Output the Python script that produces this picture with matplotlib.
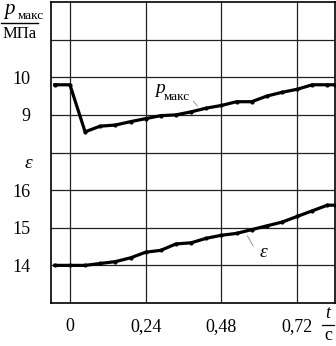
import matplotlib
matplotlib.use("Agg")
import matplotlib.pyplot as plt

# time, s
t = [-0.048, 0.0, 0.048, 0.096, 0.144, 0.192, 0.24, 0.288, 0.336, 0.384,
     0.432, 0.48, 0.528, 0.576, 0.624, 0.672, 0.72, 0.768, 0.816, 0.84]
# max pressure, MPa
p_max = [9.8, 9.8, 8.55, 8.7, 8.73, 8.82, 8.9, 8.98, 9.0, 9.08,
         9.18, 9.25, 9.35, 9.35, 9.5, 9.6, 9.68, 9.8, 9.8, 9.8]
# compression ratio
eps = [14.0, 14.0, 14.0, 14.05, 14.1, 14.2, 14.35, 14.4, 14.57, 14.6,
       14.72, 14.8, 14.85, 14.95, 15.05, 15.15, 15.3, 15.45, 15.6, 15.6]

xticks = [0, 0.24, 0.48, 0.72]
xlabels = ["0", "0,24", "0,48", "0,72"]

# both curves share one grid: p level = p - 4, eps level = eps - 13
p_lvl = [v - 4 for v in p_max]
e_lvl = [v - 13 for v in eps]

W, H = 336, 346
fig = plt.figure(figsize=(W / 100, H / 100), dpi=100)
ax = fig.add_axes([51 / W, 43 / H, 284 / W, 301 / H])

font = "Liberation Serif"
ax.plot(t, p_lvl, color="black", lw=2.3, marker="o", ms=2)
ax.plot(t, e_lvl, color="black", lw=2.3, marker="o", ms=2)

ax.set_xlim(-0.06, 0.84)
ax.set_ylim(0, 8)
ax.set_xticks(xticks)
ax.set_xticklabels(xlabels, fontfamily=font, fontsize=13)
ax.set_yticks([1, 2, 3, 5, 6])
ax.set_yticklabels(["14", "15", "16", "9", "10"], fontfamily=font, fontsize=13)
ax.tick_params(length=0, pad=11)
ax.tick_params(axis="y", pad=15)
for v in xticks:
    ax.axvline(v, color="#222222", lw=0.9, zorder=0)
for v in range(1, 8):
    ax.axhline(v, color="#222222", lw=0.9, zorder=0)
for s in ax.spines.values():
    s.set_linewidth(1.2)

# curve labels
ax.annotate("", xy=(0.41, 5.18), xytext=(0.385, 5.42),
            arrowprops=dict(arrowstyle="-", color="#999999", lw=0.7))
ax.text(0.27, 5.58, "p", fontfamily=font, style="italic", fontsize=14)
ax.text(0.296, 5.4, "макс", fontfamily=font, fontsize=9.5)
ax.annotate("", xy=(0.558, 1.85), xytext=(0.585, 1.45),
            arrowprops=dict(arrowstyle="-", color="#999999", lw=0.7))
ax.text(0.6, 1.22, "ε", fontfamily=font, style="italic", fontsize=14)

# axis captions in figure pixel coords
def px(x, y):
    return x / W, 1 - y / H

fig.text(*px(4, 14), "p", fontfamily=font, style="italic", fontsize=15)
fig.text(*px(18, 19), "макс", fontfamily=font, fontsize=9.5)
fig.add_artist(plt.Line2D([1 / W, 38 / W], [1 - 22.5 / H] * 2, color="black", lw=1))
fig.text(*px(19.5, 34), "МПа", fontfamily=font, fontsize=12, ha="center", va="center")
fig.text(*px(28, 163), "ε", fontfamily=font, style="italic", fontsize=14, ha="center", va="center")
fig.text(*px(328, 313), "t", fontfamily=font, style="italic", fontsize=13, ha="center", va="center")
fig.add_artist(plt.Line2D([322 / W, 334 / W], [1 - 325 / H] * 2, color="black", lw=0.9))
fig.text(*px(328, 335), "c", fontfamily=font, fontsize=13, ha="center", va="center")

fig.savefig("out.png", dpi=100)
